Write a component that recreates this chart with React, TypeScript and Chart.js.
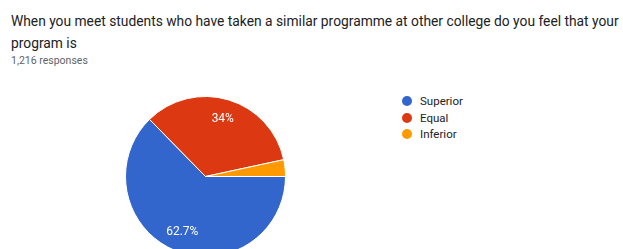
import React, { useEffect, useRef } from "react";
import { Chart, registerables } from "chart.js";

Chart.register(...registerables);

const TITLE = "When you meet students who have taken a similar programme at other college do you feel that your program is";
const RESPONSES = "1,216 responses";
const categories = ["Superior", "Equal", "Inferior"];
const counts = [762, 413, 41];
const percentLabels = ["62.7%", "34%", "3.4%"];
const colors = ["#3366cc", "#dc3912", "#ff9900"];

const sliceLabelPlugin = {
  id: "sliceLabels",
  afterDatasetsDraw(chart: any) {
    const ctx = chart.ctx;
    const meta = chart.getDatasetMeta(0);
    const total = counts.reduce((a, b) => a + b, 0);
    ctx.save();
    ctx.font = "12px Roboto";
    ctx.fillStyle = "#ffffff";
    ctx.textAlign = "center";
    ctx.textBaseline = "middle";
    meta.data.forEach((arc: any, i: number) => {
      if (counts[i] / total < 0.05) return;
      const { startAngle, endAngle, outerRadius, x, y } = arc.getProps(
        ["startAngle", "endAngle", "outerRadius", "x", "y"],
        true
      );
      const mid = (startAngle + endAngle) / 2;
      const r = outerRadius * 0.75;
      ctx.fillText(percentLabels[i], x + Math.cos(mid) * r, y + Math.sin(mid) * r);
    });
    ctx.restore();
  },
};

export default function App() {
  const ref = useRef<HTMLCanvasElement | null>(null);
  useEffect(() => {
    if (!ref.current) return;
    const chart = new Chart(ref.current, {
      type: "pie",
      data: {
        labels: categories,
        datasets: [
          {
            data: counts,
            backgroundColor: colors,
            borderColor: "#ffffff",
            borderWidth: 1,
            hoverOffset: 0,
          },
        ],
      },
      options: {
        animation: false,
        responsive: false,
        rotation: 90,
        layout: { padding: 0 },
        plugins: {
          legend: { display: false },
          tooltip: { enabled: false },
        },
      },
      plugins: [sliceLabelPlugin],
    });
    return () => chart.destroy();
  }, []);

  return (
    <div
      style={{
        position: "fixed",
        left: 0,
        top: 0,
        width: 623,
        height: 249,
        overflow: "hidden",
        background: "#ffffff",
        fontFamily: "Roboto, sans-serif",
      }}
    >
      <div
        style={{
          position: "absolute",
          left: 11,
          top: 10,
          width: 650,
          fontSize: 13.8,
          lineHeight: "22px",
          color: "#202124",
          whiteSpace: "normal",
        }}
      >
        {TITLE}
      </div>
      <div
        style={{
          position: "absolute",
          left: 11,
          top: 54,
          fontSize: 10.5,
          color: "#5f6368",
        }}
      >
        {RESPONSES}
      </div>
      <div style={{ position: "absolute", left: 125, top: 96, width: 161, height: 161 }}>
        <canvas ref={ref} width={161} height={161} />
      </div>
      <div style={{ position: "absolute", left: 402, top: 92.5 }}>
        {categories.map((c, i) => (
          <div
            key={c}
            style={{ display: "flex", alignItems: "center", height: 16.7, fontSize: 11.5, color: "#222222" }}
          >
            <span
              style={{
                display: "inline-block",
                width: 10,
                height: 10,
                borderRadius: 5,
                background: colors[i],
                marginRight: 8,
              }}
            />
            {c}
          </div>
        ))}
      </div>
    </div>
  );
}
